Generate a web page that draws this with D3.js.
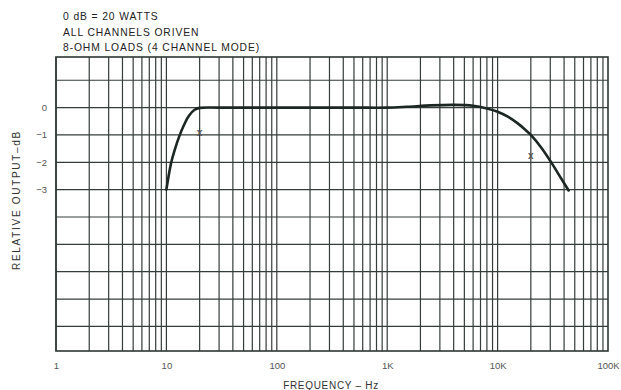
<!DOCTYPE html>
<html><head><meta charset="utf-8">
<script src="https://cdn.jsdelivr.net/npm/d3@7"></script>
<style>
body{margin:0;background:#fff;}
text{font-family:"Liberation Sans",Arial,sans-serif;}
</style></head>
<body><svg id="c" width="621" height="390"></svg>
<script>
const titleLines = ["0 dB = 20 WATTS", "ALL CHANNELS ORIVEN", "8-OHM LOADS (4 CHANNEL MODE)"];
const freqHz = [10, 11, 12, 13, 14.5, 16, 18, 20, 30, 100, 500, 1000, 1500, 2500, 4000, 6000, 8000, 10000, 12500, 15000, 17500, 20000, 25000, 31000, 37000, 44000];
const outputDb = [-3, -2.05, -1.5, -1.08, -0.62, -0.3, -0.08, -0.01, 0, 0, 0, 0, 0.03, 0.08, 0.1, 0.07, -0.03, -0.15, -0.34, -0.56, -0.78, -1.0, -1.48, -2.04, -2.54, -3.03];
const markerHz = [20, 20000];
const markerDb = [-0.9, -1.75];
const xTickValues = [1, 10, 100, 1000, 10000, 100000];
const xTickLabels = ["1", "10", "100", "1K", "10K", "100K"];
const yTickValues = [0, -1, -2, -3];
const yTickLabels = ["0", "\u22121", "\u22122", "\u22123"];
const yGridValues = [1, 0, -1, -2, -3, -4, -5, -6, -7, -8];

const svg = d3.select("#c");
const L = 56, R = 608, T = 57, B = 351;
const x = d3.scaleLog().domain([1, 100000]).range([L, R]);
const y = d3.scaleLinear().domain([-8.9, 1.85]).range([B, T]);
const gridCol = "#353d3a";

// vertical grid lines
const vLines = [];
for (let d = 1; d < 100000; d *= 10) for (let m = 1; m <= 9; m++) vLines.push(d * m);
svg.append("g").selectAll("line").data(vLines).join("line")
  .attr("x1", d => x(d)).attr("x2", d => x(d)).attr("y1", T).attr("y2", B)
  .attr("stroke", gridCol).attr("stroke-width", 1.2);
svg.append("g").selectAll("line").data(yGridValues).join("line")
  .attr("x1", L).attr("x2", R).attr("y1", d => y(d)).attr("y2", d => y(d))
  .attr("stroke", gridCol).attr("stroke-width", 1.2);
svg.append("rect").attr("x", L).attr("y", T).attr("width", R - L).attr("height", B - T)
  .attr("fill", "none").attr("stroke", "#2f3633").attr("stroke-width", 1.6);

// axes labels
const xAxis = d3.axisBottom(x).tickValues(xTickValues).tickSize(0)
  .tickFormat((d, i) => xTickLabels[i]);
const gx = svg.append("g").attr("transform", `translate(0,${B + 8})`).call(xAxis);
gx.select(".domain").remove();
gx.selectAll("text").attr("fill", "#555").attr("font-size", 9.5);

const yAxis = d3.axisLeft(y).tickValues(yTickValues).tickSize(0)
  .tickFormat((d, i) => yTickLabels[i]);
const gy = svg.append("g").attr("transform", `translate(${L - 6},0)`).call(yAxis);
gy.select(".domain").remove();
gy.selectAll("text").attr("fill", "#555").attr("font-size", 9.5);

// curve
const pts = freqHz.map((f, i) => [f, outputDb[i]]);
const line = d3.line().x(d => x(d[0])).y(d => y(d[1])).curve(d3.curveCatmullRom.alpha(0.5));
svg.append("path").attr("d", line(pts)).attr("fill", "none")
  .attr("stroke", "#1c2622").attr("stroke-width", 2.6).attr("stroke-linecap", "round");

// x markers
const mk = markerHz.map((f, i) => [f, markerDb[i]]);
svg.append("g").selectAll("text").data(mk).join("text")
  .attr("x", d => x(d[0])).attr("y", d => y(d[1]) + 3.5).attr("text-anchor", "middle")
  .attr("font-size", 10).attr("font-weight", "bold").attr("fill", "#555").text("x");

// titles
svg.append("g").selectAll("text").data(titleLines).join("text")
  .attr("x", 63).attr("y", (d, i) => 20 + i * 15.5).attr("font-size", 10.3)
  .attr("fill", "#222").attr("letter-spacing", 0.9).text(d => d);

svg.append("text").attr("transform", "translate(20,200) rotate(-90)")
  .attr("text-anchor", "middle").attr("font-size", 10).attr("letter-spacing", 1.7)
  .attr("fill", "#333").text("RELATIVE OUTPUT\u2013dB");
svg.append("text").attr("x", 331).attr("y", 389).attr("text-anchor", "middle")
  .attr("font-size", 10).attr("letter-spacing", 0.7).attr("fill", "#333")
  .text("FREQUENCY \u2013 Hz");
</script></body></html>
